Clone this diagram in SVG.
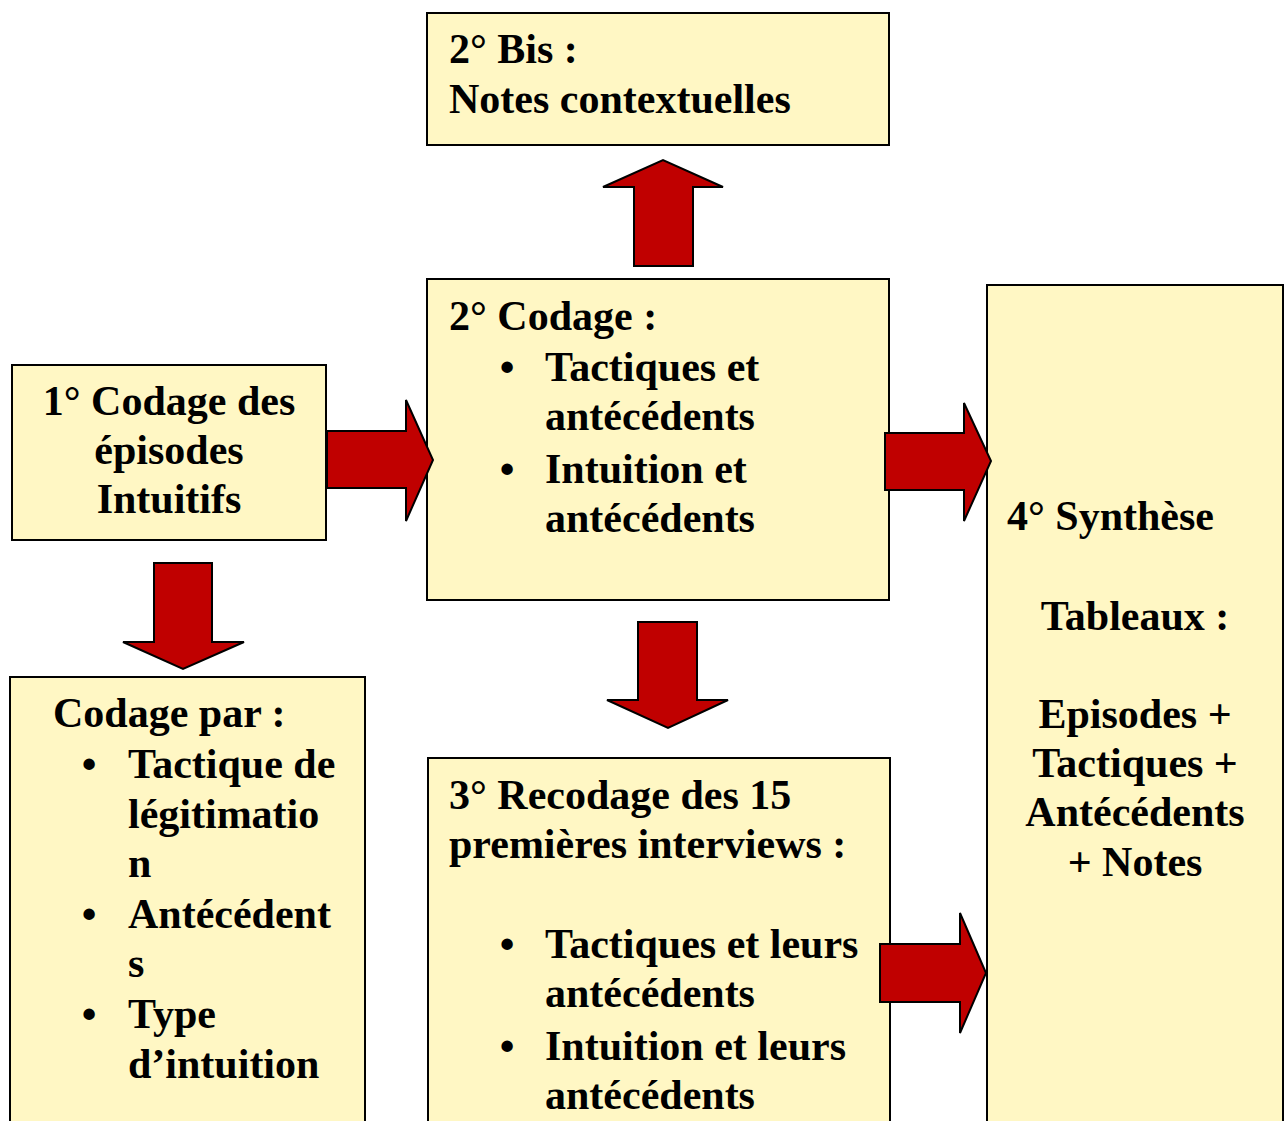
<svg xmlns="http://www.w3.org/2000/svg" width="1284" height="1121" viewBox="0 0 1284 1121">
  <style>
    .box { fill: #FFF7C4; stroke: #000; stroke-width: 2; }
    .arrow { fill: #C00000; stroke: #000; stroke-width: 2; stroke-linejoin: miter; }
    text { font-family: "Liberation Serif", "Times New Roman", serif; font-weight: bold; font-size: 42px; fill: #000; }
    .mid { text-anchor: middle; }
  </style>
  <rect width="1284" height="1121" fill="#fff"/>

  <g id="notes-contextuelles">
    <rect class="box" x="427" y="13" width="462" height="132"/>
    <text x="449" y="63">2° Bis :</text>
    <text x="449" y="113">Notes contextuelles</text>
  </g>

  <g id="codage-episodes">
    <rect class="box" x="12" y="365" width="314" height="175"/>
    <text class="mid" x="169" y="415">1° Codage des</text>
    <text class="mid" x="169" y="464">épisodes</text>
    <text class="mid" x="169" y="513">Intuitifs</text>
  </g>

  <g id="codage-2">
    <rect class="box" x="427" y="279" width="462" height="321"/>
    <text x="449" y="330">2° Codage :</text>
    <text class="mid" x="507" y="381">•</text>
    <text x="545" y="381">Tactiques et</text>
    <text x="545" y="430">antécédents</text>
    <text class="mid" x="507" y="483">•</text>
    <text x="545" y="483">Intuition et</text>
    <text x="545" y="532">antécédents</text>
  </g>

  <g id="codage-par">
    <rect class="box" x="10" y="677" width="355" height="460"/>
    <text x="53" y="727">Codage par :</text>
    <text class="mid" x="89" y="778">•</text>
    <text x="128" y="778">Tactique de</text>
    <text x="128" y="828">légitimatio</text>
    <text x="128" y="877">n</text>
    <text class="mid" x="89" y="928">•</text>
    <text x="128" y="928">Antécédent</text>
    <text x="128" y="977">s</text>
    <text class="mid" x="89" y="1028">•</text>
    <text x="128" y="1028">Type</text>
    <text x="128" y="1078">d’intuition</text>
  </g>

  <g id="recodage-3">
    <rect class="box" x="428" y="758" width="462" height="380"/>
    <text x="449" y="809">3° Recodage des 15</text>
    <text x="449" y="858">premières interviews :</text>
    <text class="mid" x="507" y="958">•</text>
    <text x="545" y="958">Tactiques et leurs</text>
    <text x="545" y="1007">antécédents</text>
    <text class="mid" x="507" y="1060">•</text>
    <text x="545" y="1060">Intuition et leurs</text>
    <text x="545" y="1109">antécédents</text>
  </g>

  <g id="synthese-4">
    <rect class="box" x="987" y="285" width="296" height="850"/>
    <text x="1007" y="530">4° Synthèse</text>
    <text class="mid" x="1135" y="630">Tableaux :</text>
    <text class="mid" x="1135" y="728">Episodes +</text>
    <text class="mid" x="1135" y="777">Tactiques +</text>
    <text class="mid" x="1135" y="826">Antécédents</text>
    <text class="mid" x="1135" y="876">+ Notes</text>
  </g>

  <!-- block arrows, drawn over the box edges -->
  <g id="connectors">
    <polygon class="arrow" points="634,266 693,266 693,187 723,187 663,160 603,187 634,187"/>
    <polygon class="arrow" points="327,431 406,431 406,400 433,460 406,521 406,488 327,488"/>
    <polygon class="arrow" points="885,433 964,433 964,403 991,461 964,521 964,490 885,490"/>
    <polygon class="arrow" points="154,563 212,563 212,642 244,642 183,669 123,642 154,642"/>
    <polygon class="arrow" points="638,622 697,622 697,700 728,700 668,728 607,700 638,700"/>
    <polygon class="arrow" points="880,944 960,944 960,913 986,973 960,1033 960,1002 880,1002"/>
  </g>
</svg>
